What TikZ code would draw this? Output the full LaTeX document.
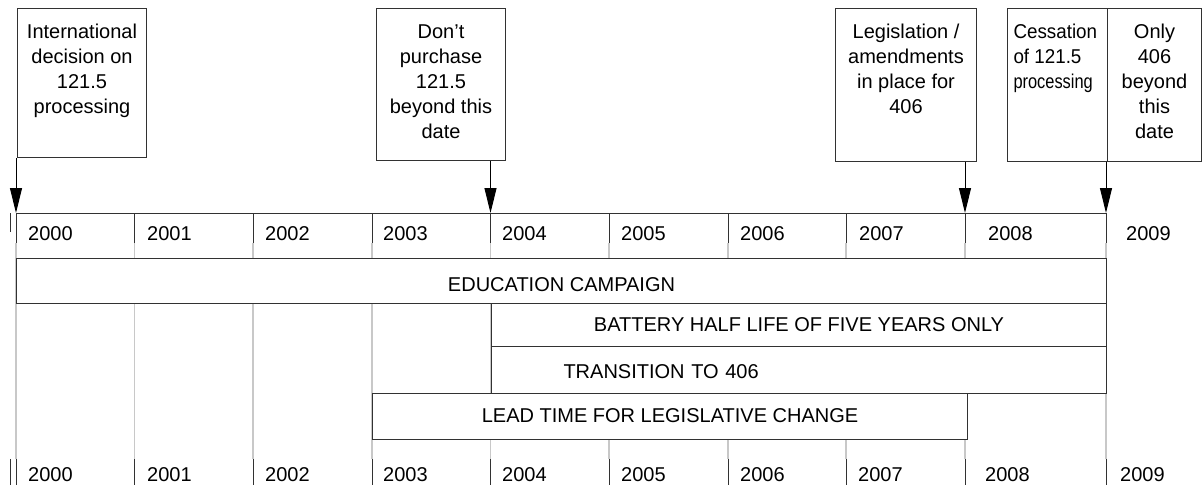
\documentclass[tikz,border=0pt]{standalone}
\usepackage{fontspec}
\setmainfont{Liberation Sans}
\usepackage{graphicx}
\usetikzlibrary{arrows.meta}
\definecolor{gridgray}{RGB}{200,200,200}
\definecolor{linegray}{RGB}{50,50,50}
\newcommand{\notetext}[4]{\parbox[t][#2pt][t]{#1pt}{\vspace*{16pt}#3#4}}
\begin{document}
\begin{tikzpicture}[x=1pt,y=-1pt,font=\fontsize{20}{25}\selectfont]

\tikzset{notebox/.style={draw=linegray,fill=white,line width=1pt,inner sep=0pt,anchor=north west}}
\tikzset{bar/.style={draw=linegray,fill=white,line width=1pt,inner sep=0pt,anchor=north west,text height=14pt,text depth=1pt}}
\tikzset{yearlabel/.style={inner sep=0pt,anchor=base west}}
\tikzset{pointer/.style={-{Triangle[length=25pt,width=12pt]},line width=1pt,black}}

\useasboundingbox (0,0) rectangle (1202,485);

% year boundaries
\foreach \x [count=\i from 0] in {16,134.5,253,372,490.5,609,728,846,965,1106}{
  \coordinate (t\i) at (\x,213);
  \coordinate (b\i) at (\x,459);
  \draw[gridgray,line width=1.5pt] (\x,243) -- (\x,459);
  \draw[linegray,line width=1pt] (\x,213) -- (\x,243);
  \draw[linegray,line width=1pt] (\x,459) -- (\x,485);
}
\draw[linegray,line width=1pt] (10,213) -- (10,232);
\draw[linegray,line width=1pt] (10,459) -- (10,485);
\draw[linegray,line width=1pt] (t0) -- (t9);

\foreach \yr/\x in {2000/28,2001/147,2002/265,2003/383,2004/502,2005/621,2006/740,2007/859,2008/988,2009/1126}
  \draw (\x,240) node[yearlabel](top\yr) {\yr};
\foreach \yr/\x in {2000/28,2001/147,2002/265,2003/383,2004/502,2005/621,2006/740,2007/858,2008/985,2009/1120}
  \draw (\x,481) node[yearlabel](bot\yr) {\yr};

% bars
\draw (16,258) node[bar,minimum width=1090pt,minimum height=45pt,text height=21pt,text depth=0pt](edu) {EDUCATION CAMPAIGN};
\draw (491,303) node[bar,minimum width=615pt,minimum height=43pt](batt) {BATTERY HALF LIFE OF FIVE YEARS ONLY};
\draw (491,346) node[bar,text width=615pt,align=left,minimum height=47pt,text height=17pt,text depth=0pt](trans) {\hspace*{72pt}TRANSITION TO 406};
\draw (372,393) node[bar,minimum width=595pt,minimum height=46pt,text height=12pt,text depth=0pt](lead) {LEAD TIME FOR LEGISLATIVE CHANGE};

% notes
\draw (17,8) node[notebox](intl) {\notetext{129}{149}{\centering}{International\\decision on\\121.5\\processing}};
\draw (376,8) node[notebox](dont) {\notetext{129}{152}{\centering}{Don’t\\purchase\\121.5\\beyond this\\date}};
\draw (835,8) node[notebox](legis) {\notetext{141}{153}{\centering}{Legislation /\\amendments\\in place for\\406}};
\draw (1007,8) node[notebox](cess) {\notetext{100}{153}{\raggedright\leftskip=6pt}{\scalebox{0.94}[1]{Cessation}\\\scalebox{0.94}[1]{of 121.5}\\\scalebox{0.82}[1]{processing}}};
\draw (1107,8) node[notebox](only) {\notetext{94}{153}{\centering}{Only\\406\\beyond\\this\\date}};

\draw[pointer] (intl.south -| t0) to (t0);
\draw[pointer] (dont.south -| t4) to (t4);
\draw[pointer] (legis.south -| t8) to (t8);
\draw[pointer] (cess.south -| t9) to (t9);

\end{tikzpicture}
\end{document}
